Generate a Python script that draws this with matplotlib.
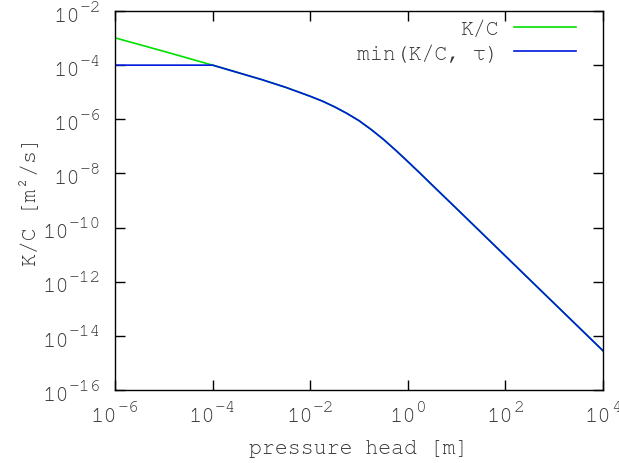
import matplotlib
matplotlib.use("Agg")
import matplotlib.pyplot as plt
import numpy as np
from matplotlib.ticker import FixedLocator, NullFormatter

plt.rcParams['font.family'] = ['Nimbus Mono PS', 'Courier New', 'FreeMono',
                               'Liberation Mono', 'DejaVu Sans Mono']

# pressure head [m] and diffusivity K/C [m^2/s]
head = [1e-6, 1e-5, 1e-4, 1e-3, 3.16e-3, 1e-2, 1.78e-2, 3.16e-2, 5.62e-2,
        1e-1, 1.78e-1, 3.16e-1, 5.62e-1, 1.0, 1.78, 3.16, 10.0, 1e2, 1e3, 1e4]
kc = [1.02e-3, 3.24e-4, 1.0e-4, 2.95e-5, 1.51e-5, 7.08e-6, 4.68e-6, 2.88e-6,
      1.66e-6, 8.9e-7, 4.17e-7, 1.82e-7, 7.24e-8, 2.75e-8, 1.02e-8, 3.72e-9,
      5.01e-10, 8.91e-12, 1.58e-13, 2.82e-15]
tau = 1e-4

xticks = [1e-6, 1e-4, 1e-2, 1e0, 1e2, 1e4]
yticks = [1e-16, 1e-14, 1e-12, 1e-10, 1e-8, 1e-6, 1e-4, 1e-2]

txt = '#3a3a3a'
fs = 15.5
base_fs, sup_fs = 16, 13         # "10" and its exponent
cw_base, cw_sup = 0.6 * base_fs, 0.6 * sup_fs   # monospace advance, points
rise = 7.3                       # exponent lift above the baseline, points

fig = plt.figure(figsize=(6.19, 4.64), dpi=100)
ax = fig.add_axes([115 / 619, 1 - 391 / 464, 488 / 619, 379 / 464])

ax.plot(head, kc, color='#00e000', lw=1.2, label='K/C')
ax.plot(head, np.minimum(kc, tau), color='#0018e0', lw=1.2, label='min(K/C, τ)')

ax.set_xscale('log')
ax.set_yscale('log')
ax.set_xlim(1e-6, 1e4)
ax.set_ylim(1e-16, 1e-2)

for axis, t in ((ax.xaxis, xticks), (ax.yaxis, yticks)):
    axis.set_major_locator(FixedLocator(t))
    axis.set_major_formatter(NullFormatter())
    axis.set_minor_locator(FixedLocator([]))

ax.tick_params(which='major', direction='in', length=7, width=1,
               top=True, right=True)
for s in ax.spines.values():
    s.set_linewidth(1)
    s.set_color('black')

# gnuplot-style power labels: "10" with a raised exponent
def power_label(xy, coords, exp, dx, dy):
    ax.annotate('10', xy=xy, xycoords=coords, xytext=(dx, dy),
                textcoords='offset points', ha='left', va='baseline',
                fontsize=base_fs, color=txt, annotation_clip=False)
    ax.annotate(exp, xy=xy, xycoords=coords,
                xytext=(dx + 2 * cw_base, dy + rise),
                textcoords='offset points', ha='left', va='baseline',
                fontsize=sup_fs, color=txt, annotation_clip=False)

for v in xticks:
    e = '%d' % round(np.log10(v))
    w = 2 * cw_base + len(e) * cw_sup
    power_label((v, 0), ('data', 'axes fraction'), e, -w / 2, -22.3)

for v in yticks:
    e = '%d' % round(np.log10(v))
    w = 2 * cw_base + len(e) * cw_sup
    power_label((0, v), ('axes fraction', 'data'), e, -9.8 - w, -7.0)

ax.set_xlabel('pressure head [m]', fontsize=fs, color=txt)
ax.set_ylabel('K/C [m²/s]', fontsize=fs, color=txt)
ax.xaxis.set_label_coords(0.5, -0.129)
ax.yaxis.set_label_coords(-0.153, 0.5)

leg = ax.legend(loc='upper right', bbox_to_anchor=(0.9447, 0.978),
                frameon=False, markerfirst=False, fontsize=fs,
                handlelength=2.9, handletextpad=0.7, labelspacing=0.25,
                borderaxespad=0, borderpad=0)
for t in leg.get_texts():
    t.set_color(txt)

fig.savefig('out.png', dpi=100)
